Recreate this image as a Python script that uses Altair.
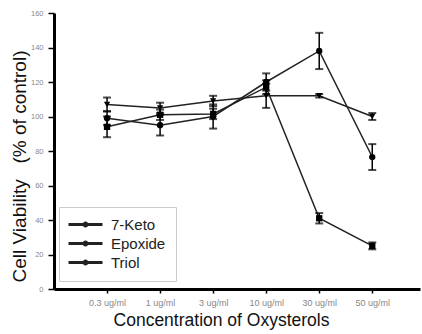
import altair as alt
import pandas as pd

conc_labels = ["0.3 ug/ml", "1 ug/ml", "3 ug/ml", "10 ug/ml", "30 ug/ml", "50 ug/ml"]
series_names = ["7-Keto", "Epoxide", "Triol"]
series_shapes = ["circle", "triangle-down", "square"]
keto_vals = [99, 95, 100, 120, 138, 76.5]
keto_err = [4, 6, 7, 5, 10.5, 7.5]
epox_vals = [107, 105, 109, 112, 112, 100]
epox_err = [4, 3, 3, 7, 1, 2]
triol_vals = [94, 101, 101.5, 117, 41, 25]
triol_err = [6, 3, 3, 4, 3, 2]

rows = []
for name, vals, errs in zip(series_names, [keto_vals, epox_vals, triol_vals], [keto_err, epox_err, triol_err]):
    for i, (v, e) in enumerate(zip(vals, errs)):
        rows.append({"series": name, "idx": i + 1, "value": v, "lo": v - e, "hi": v + e})
df = pd.DataFrame(rows)

label_expr = "[" + ",".join("'" + s + "'" for s in conc_labels) + "][datum.value - 1]"

x_axis = alt.Axis(values=list(range(1, 7)), labelExpr=label_expr,
                  title="Concentration of Oxysterols", titleFontSize=17.5,
                  titleFont="Liberation Sans", labelFont="Liberation Sans",
                  titleFontWeight="normal", titleColor="#111",
                  titleX=167, titleY=36, titleAlign="center", titleBaseline="alphabetic",
                  labelFontSize=9, labelColor="#888", labelPadding=5,
                  labelOverlap=False, domainColor="black", domainWidth=3,
                  tickColor="black", tickSize=4, tickWidth=1.5, grid=False)
y_axis = alt.Axis(values=list(range(0, 161, 20)),
                  title="Cell Viability" + "\u00a0" * 3 + "(% of control)",
                  titleFontSize=19, titleFontWeight="normal", titleColor="#111",
                  titleFont="Liberation Sans", labelFont="Liberation Sans",
                  titleX=-29, titleY=153, titleAngle=-90, titleAlign="center",
                  titleBaseline="alphabetic",
                  labelFontSize=7.5, labelColor="#888", labelPadding=5,
                  labelOverlap=False, domainColor="black", domainWidth=3,
                  tickColor="black", tickSize=6, tickWidth=1.5, grid=False)
xscale = alt.Scale(domain=[0, 6.9], nice=False, zero=False)
yscale = alt.Scale(domain=[0, 160], nice=False)


def X():
    return alt.X("idx:Q", scale=xscale, axis=x_axis)


def Y(field):
    return alt.Y(field + ":Q", scale=yscale, axis=y_axis)


sym_path = ("M-2.833,0H2.833M-0.25,0A0.25,0.25,0,1,0,0.25,0"
            "A0.25,0.25,0,1,0,-0.25,0Z")

base = alt.Chart(df)

lines = base.mark_line(strokeWidth=1.5, color="#333").encode(
    x=X(),
    y=Y("value"),
    color=alt.Color("series:N",
                    scale=alt.Scale(domain=series_names, range=["#222", "#222", "#222"]),
                    legend=alt.Legend(title=None, orient="none", legendX=5, legendY=194,
                                      symbolType=sym_path, symbolSize=144,
                                      symbolStrokeWidth=3, symbolFillColor="#111",
                                      symbolOffset=9, labelOffset=18,
                                      labelFontSize=15, labelColor="#222",
                                      labelFont="Liberation Sans",
                                      padding=10, rowPadding=3,
                                      strokeColor="#ccc", fillColor="white")),
)

rules = base.mark_rule(strokeWidth=1.5, color="black").encode(
    x=X(), y=Y("lo"), y2="hi:Q")
cap_lo = base.mark_tick(orient="horizontal", size=8, thickness=2, color="black").encode(
    x=X(), y=Y("lo"))
cap_hi = base.mark_tick(orient="horizontal", size=8, thickness=2, color="black").encode(
    x=X(), y=Y("hi"))

point_layers = []
for name, shp in zip(series_names, series_shapes):
    point_layers.append(
        base.transform_filter(alt.datum.series == name)
        .mark_point(filled=True, size=40, color="black", opacity=1, shape=shp)
        .encode(x=X(), y=Y("value"))
    )

chart = alt.layer(lines, rules, cap_lo, cap_hi, *point_layers).properties(
    width=366, height=276,
    background="white",
    autosize=alt.AutoSizeParams(type="none"),
    padding={"left": 54, "top": 13, "right": 2, "bottom": 45},
).configure_view(stroke=None)

chart.save("out.html", embed_options={"renderer": "svg", "actions": False})
